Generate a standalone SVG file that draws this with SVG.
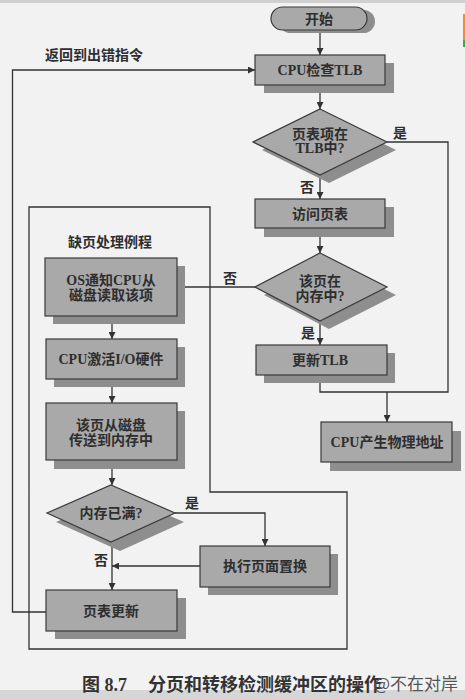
<svg xmlns="http://www.w3.org/2000/svg" width="465" height="699" viewBox="0 0 465 699">
<defs>
<style>
.bg{fill:#f2f2f2}
.box{fill:#a9a9a9;stroke:#3a3a3a;stroke-width:1.2}
.sh{fill:#8e8e8e}
.ln{fill:none;stroke:#333;stroke-width:1.3}
.t{font-family:"Liberation Serif","Noto Sans CJK SC",serif;font-size:14px;font-weight:bold;fill:#2e2e2e;text-anchor:middle}
.lab{font-family:"Liberation Serif","Noto Sans CJK SC",serif;font-size:14px;font-weight:bold;fill:#2e2e2e}
.cap{font-family:"Liberation Serif","Noto Sans CJK SC",serif;font-size:18px;font-weight:bold;fill:#333}
.wm{font-family:"Noto Sans CJK SC",sans-serif;font-size:17px;fill:#555}
</style>
<marker id="ah" viewBox="0 0 10 10" refX="10" refY="5" markerWidth="7" markerHeight="7" markerUnits="userSpaceOnUse" orient="auto">
<path d="M0,0 L10,5 L0,10 z" fill="#333"/>
</marker>
</defs>
<rect class="bg" x="0" y="0" width="465" height="699"/>
<rect x="0" y="0" width="465" height="3" fill="#cfcfcf"/>
<rect x="0" y="690" width="465" height="9" fill="#d6d6d6"/>
<rect x="463" y="14" width="2" height="26" fill="#f08a3c"/>
<rect x="463" y="40" width="2" height="7" fill="#2bb34a"/>

<g id="region">
<path class="ln" d="M29,207 H210 V492 H347 V649 H29 Z"/>
<text class="lab" x="68" y="247">缺页处理例程</text>
</g>

<g id="connectors">
<path class="ln" d="M320,30 V55" marker-end="url(#ah)"/>
<path class="ln" d="M320,85 V109" marker-end="url(#ah)"/>
<path class="ln" d="M320,175 V199" marker-end="url(#ah)"/>
<path class="ln" d="M320,228 V253" marker-end="url(#ah)"/>
<path class="ln" d="M320,321 V345" marker-end="url(#ah)"/>
<path class="ln" d="M387,142 H448 V392 H320 V375"/>
<path class="ln" d="M387,392 V422" marker-end="url(#ah)"/>
<path class="ln" d="M255,287 H177" marker-end="url(#ah)"/>
<path class="ln" d="M112,316 V339" marker-end="url(#ah)"/>
<path class="ln" d="M112,379 V403" marker-end="url(#ah)"/>
<path class="ln" d="M112,460 V485" marker-end="url(#ah)"/>
<path class="ln" d="M175,513 H265 V546" marker-end="url(#ah)"/>
<path class="ln" d="M200,566 H112" marker-end="url(#ah)"/>
<path class="ln" d="M112,542 V590" marker-end="url(#ah)"/>
<path class="ln" d="M46,612 H12.5 V70 H255" marker-end="url(#ah)"/>
<text class="lab" x="393" y="138">是</text>
<text class="lab" x="300" y="192">否</text>
<text class="lab" x="223" y="283">否</text>
<text class="lab" x="301" y="338">是</text>
<text class="lab" x="185" y="508">是</text>
<text class="lab" x="94" y="565">否</text>
<text class="lab" x="45" y="60">返回到出错指令</text>
</g>

<g id="start">
<rect class="sh" x="279" y="10" width="96" height="23" rx="11.5"/>
<rect class="box" x="271" y="7" width="96" height="23" rx="11.5"/>
<text class="t" x="319" y="24">开始</text>
</g>

<g id="checkTLB">
<rect class="sh" x="264" y="63" width="130" height="30"/>
<rect class="box" x="255" y="55" width="130" height="30"/>
<text class="t" x="320" y="75">CPU检查TLB</text>
</g>

<g id="inTLB">
<polygon class="sh" points="329,117 396,150 329,183 262,150"/>
<polygon class="box" points="320,109 387,142 320,175 253,142"/>
<text class="t" x="320" y="139">页表项在</text>
<text class="t" x="320" y="153">TLB中?</text>
</g>

<g id="accessPT">
<rect class="sh" x="264" y="207" width="130" height="30"/>
<rect class="box" x="255" y="199" width="130" height="29"/>
<text class="t" x="320" y="219">访问页表</text>
</g>

<g id="inMem">
<polygon class="sh" points="329,261 396,295 329,329 264,295"/>
<polygon class="box" points="320,253 387,287 320,321 255,287"/>
<text class="t" x="320" y="286">该页在</text>
<text class="t" x="320" y="301">内存中?</text>
</g>

<g id="updateTLB">
<rect class="sh" x="264" y="353" width="131" height="30"/>
<rect class="box" x="256" y="345" width="131" height="30"/>
<text class="t" x="320" y="365">更新TLB</text>
</g>

<g id="physAddr">
<rect class="sh" x="330" y="431" width="131" height="40"/>
<rect class="box" x="321" y="422" width="131" height="40"/>
<text class="t" x="387" y="447">CPU产生物理地址</text>
</g>

<g id="osNotify">
<rect class="sh" x="53" y="266" width="132" height="58"/>
<rect class="box" x="45" y="258" width="132" height="58"/>
<text class="t" x="111" y="285">OS通知CPU从</text>
<text class="t" x="111" y="300">磁盘读取该项</text>
</g>

<g id="cpuIO">
<rect class="sh" x="54" y="347" width="131" height="40"/>
<rect class="box" x="46" y="339" width="131" height="40"/>
<text class="t" x="111" y="364">CPU激活I/O硬件</text>
</g>

<g id="transfer">
<rect class="sh" x="54" y="411" width="131" height="58"/>
<rect class="box" x="46" y="403" width="131" height="57"/>
<text class="t" x="111" y="430">该页从磁盘</text>
<text class="t" x="111" y="445">传送到内存中</text>
</g>

<g id="memFull">
<polygon class="sh" points="120,494 184,522 120,551 56,522"/>
<polygon class="box" points="111,485 175,513 111,542 47,513"/>
<text class="t" x="111" y="518">内存已满?</text>
</g>

<g id="replace">
<rect class="sh" x="208" y="554" width="130" height="41"/>
<rect class="box" x="200" y="546" width="130" height="41"/>
<text class="t" x="265" y="571">执行页面置换</text>
</g>

<g id="ptUpdate">
<rect class="sh" x="55" y="598" width="131" height="41"/>
<rect class="box" x="46" y="590" width="131" height="41"/>
<text class="t" x="111" y="616">页表更新</text>
</g>

<g id="caption">
<text class="cap" x="82" y="691">图 8.7</text>
<text class="cap" x="148" y="691">分页和转移检测缓冲区的操作</text>
<text class="wm" x="374" y="690">@不在对岸</text>
</g>
</svg>
